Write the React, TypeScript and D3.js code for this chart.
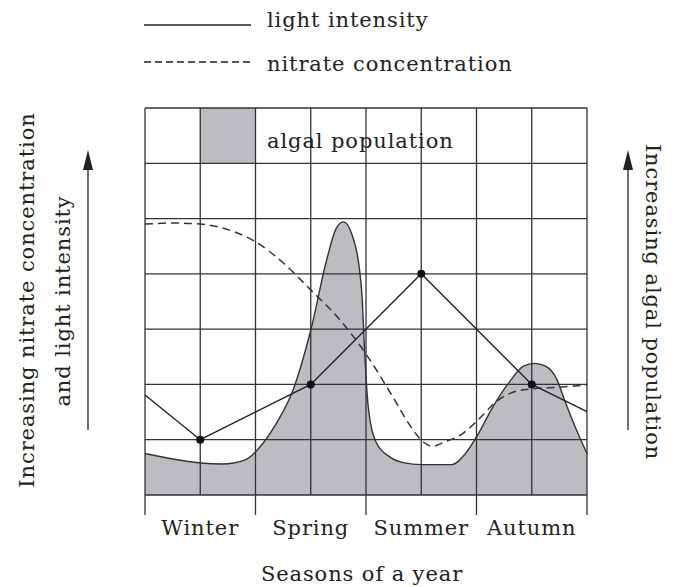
import React from "react";
import * as d3 from "d3";

const seasons = ["Winter", "Spring", "Summer", "Autumn"];
const lightX = [0, 1, 3, 5, 7, 8];
const lightY = [1.81, 1.0, 2.0, 4.0, 2.0, 1.51];
const lightDots = [1, 2, 3, 4];
const nitrateX = [0, 0.5, 1, 1.5, 2, 2.5, 3, 3.5, 4, 4.5, 4.8, 5.05, 5.2, 5.4, 5.76, 6, 6.36, 6.66, 7, 7.5, 8];
const nitrateY = [4.9, 4.92, 4.9, 4.8, 4.58, 4.2, 3.71, 3.2, 2.55, 1.75, 1.25, 0.95, 0.88, 0.95, 1.12, 1.33, 1.69, 1.86, 1.92, 1.95, 1.99];
const algaeX = [0, 0.5, 1, 1.4, 1.8, 2, 2.14, 2.38, 2.68, 3, 3.3, 3.45, 3.59, 3.75, 3.92, 3.98, 4.04, 4.19, 4.43, 4.7, 5, 5.55, 5.8, 6, 6.3, 6.6, 6.85, 7.05, 7.25, 7.45, 7.6, 7.8, 8];
const algaeY = [0.75, 0.65, 0.58, 0.56, 0.63, 0.78, 0.94, 1.3, 1.9, 2.98, 4.3, 4.8, 4.94, 4.7, 3.71, 2.5, 1.6, 0.94, 0.69, 0.58, 0.55, 0.55, 0.75, 1.05, 1.6, 2.05, 2.33, 2.38, 2.33, 2.1, 1.7, 1.2, 0.75];

const FONT = "DejaVu Serif";
const INK = "#222";
const GRAY = "#bcbdc1";
const LS = 0.9;

export default function App() {
  const x = d3.scaleLinear().domain([0, 8]).range([145, 587]);
  const y = d3.scaleLinear().domain([0, 7]).range([495, 108]);

  const light = lightX.map((v, i) => [v, lightY[i]] as [number, number]);
  const nitrate = nitrateX.map((v, i) => [v, nitrateY[i]] as [number, number]);
  const algae = algaeX.map((v, i) => [v, algaeY[i]] as [number, number]);

  const lineL = d3.line<[number, number]>().x(d => x(d[0])).y(d => y(d[1]));
  const lineC = d3.line<[number, number]>().x(d => x(d[0])).y(d => y(d[1])).curve(d3.curveMonotoneX);
  const areaC = d3.area<[number, number]>().x(d => x(d[0])).y0(y(0)).y1(d => y(d[1])).curve(d3.curveMonotoneX);

  const cols = d3.range(0, 9);
  const rows = d3.range(0, 8);
  const tp = { fontFamily: FONT, fontSize: 21, fill: INK, letterSpacing: LS };

  return (
    <svg width={684} height={587} style={{ position: "absolute", left: 0, top: 0, background: "#fff" }}>
      {/* legend top */}
      <line x1={144} x2={251} y1={25} y2={25} stroke={INK} strokeWidth={1.3} />
      <text x={267} y={27} {...tp}>light intensity</text>
      <line x1={144} x2={251} y1={62} y2={62} stroke={INK} strokeWidth={1.3} strokeDasharray="7 4" />
      <text x={267} y={71} {...tp}>nitrate concentration</text>

      {/* algae fill */}
      <path d={areaC(algae) || ""} fill={GRAY} />
      <rect x={x(1)} y={y(7)} width={x(2) - x(1)} height={y(6) - y(7)} fill={GRAY} />

      {/* grid */}
      {cols.map(c => (
        <line key={"c" + c} x1={x(c)} x2={x(c)} y1={y(7)} y2={y(0)} stroke="#333" strokeWidth={1.3} />
      ))}
      {rows.map(r => (
        <line key={"r" + r} x1={x(0)} x2={x(8)} y1={y(r)} y2={y(r)} stroke="#333" strokeWidth={1.3} />
      ))}
      {[0, 2, 4, 6, 8].map(c => (
        <line key={"t" + c} x1={x(c)} x2={x(c)} y1={y(0)} y2={y(0) + 20} stroke="#333" strokeWidth={1.3} />
      ))}

      <text x={267} y={148} {...tp}>algal population</text>

      {/* algae outline */}
      <path d={lineC(algae) || ""} fill="none" stroke="#333" strokeWidth={1.4} />
      {/* nitrate */}
      <path d={lineC(nitrate) || ""} fill="none" stroke="#333" strokeWidth={1.5} strokeDasharray="8 5" />
      {/* light */}
      <path d={lineL(light) || ""} fill="none" stroke={INK} strokeWidth={1.4} />
      {lightDots.map(i => (
        <circle key={i} cx={x(lightX[i])} cy={y(lightY[i])} r={4} fill="#111" />
      ))}

      {/* season labels */}
      {seasons.map((s, i) => (
        <text key={s} x={(x(i * 2) + x(i * 2 + 2)) / 2} y={535} textAnchor="middle" {...tp}>{s}</text>
      ))}
      <text x={362} y={581} textAnchor="middle" {...tp}>Seasons of a year</text>

      {/* left labels */}
      <text transform="translate(27,300) rotate(-90)" textAnchor="middle" dy="0.35em" {...tp}>Increasing nitrate concentration</text>
      <text transform="translate(63,301) rotate(-90)" textAnchor="middle" dy="0.35em" {...tp}>and light intensity</text>
      <line x1={88} x2={88} y1={430} y2={165} stroke="#333" strokeWidth={1.4} />
      <path d="M88,150 L83,170 L93,170 Z" fill="#222" />

      {/* right labels */}
      <line x1={628} x2={628} y1={430} y2={165} stroke="#333" strokeWidth={1.4} />
      <path d="M628,150 L623,170 L633,170 Z" fill="#222" />
      <text transform="translate(653,302) rotate(90)" textAnchor="middle" dy="0.35em" {...tp}>Increasing algal population</text>
    </svg>
  );
}
